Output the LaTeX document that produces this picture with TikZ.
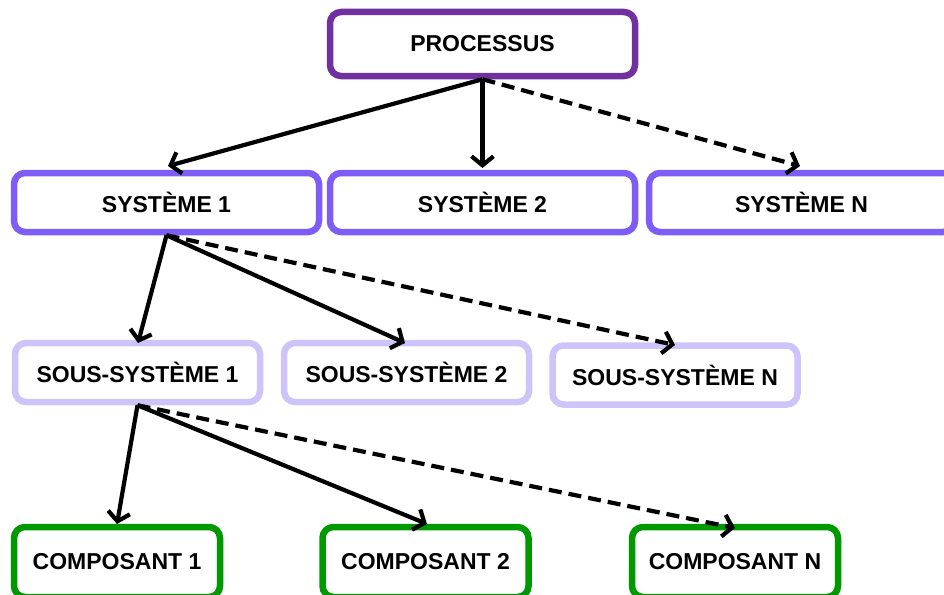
\documentclass[tikz,border=0pt]{standalone}
\usepackage{fontspec}
\setmainfont{Liberation Sans}
\usetikzlibrary{arrows.meta}
\definecolor{proccol}{RGB}{112,48,160}
\definecolor{syscol}{RGB}{125,93,245}
\definecolor{sscol}{RGB}{206,196,250}
\definecolor{compcol}{RGB}{0,153,0}
\begin{document}
\begin{tikzpicture}[x=1pt,y=-1pt,
  box/.style={draw, rounded corners=11pt, line width=6.5pt, fill=white,
    font=\fontsize{23}{27}\selectfont\bfseries, inner sep=0pt, align=center},
  procbox/.style={box, draw=proccol, minimum width=305pt, minimum height=64pt},
  sysbox/.style={box, draw=syscol, minimum width=305pt, minimum height=59pt},
  ssbox/.style={box, draw=sscol, minimum width=245pt, minimum height=59pt},
  compbox/.style={box, draw=compcol, minimum width=206pt, minimum height=70pt},
  conn/.style={line width=4.2pt, line cap=butt, -{Straight Barb[length=9pt,width=22pt,line width=4.2pt]}},
  dconn/.style={conn, dash pattern=on 13pt off 7pt}]
\useasboundingbox (0,0) rectangle (944,594);

\node[procbox] (p) at (482.5,44) {PROCESSUS};

\node[sysbox] (s1) at (166.5,202.5) {SYST\`EME 1};
\node[sysbox] (s2) at (482.5,202.5) {SYST\`EME 2};
\node[sysbox] (sn) at (801.5,202.5) {SYST\`EME N};

\node[ssbox] (ss1) at (137.5,372.5) {SOUS-SYST\`EME 1};
\node[ssbox] (ss2) at (406.5,372.5) {SOUS-SYST\`EME 2};
\node[ssbox] (ssn) at (675,375) {SOUS-SYST\`EME N};

\node[compbox] (c1) at (117,562) {COMPOSANT 1};
\node[compbox] (c2) at (425.5,562) {COMPOSANT 2};
\node[compbox] (cn) at (735,562) {COMPOSANT N};

\coordinate (e1) at (168,166);
\coordinate (e2) at (482.5,168);
\coordinate (en) at (800,166);
\coordinate (f1) at (138,343);
\coordinate (f2) at (405,343);
\coordinate (fn) at (675,345);
\coordinate (g1) at (117,524);
\coordinate (g2) at (427,524);
\coordinate (gn) at (735,528);

\draw[conn] (p.south) -- (e1);
\draw[conn] (p.south) -- (e2);
\draw[dconn] (p.south) -- (en);

\draw[conn] (s1.south) -- (f1);
\draw[conn] (s1.south) -- (f2);
\draw[dconn] (s1.south) -- (fn);

\draw[conn] (ss1.south) -- (g1);
\draw[conn] (ss1.south) -- (g2);
\draw[dconn] (ss1.south) -- (gn);
\end{tikzpicture}
\end{document}
